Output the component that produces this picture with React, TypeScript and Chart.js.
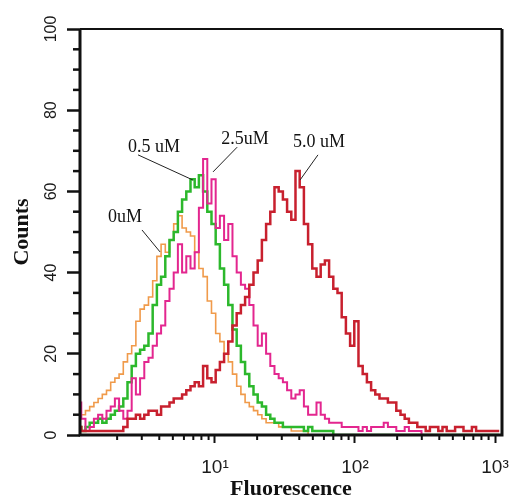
import React, { useEffect, useRef } from 'react';
import { Chart, registerables } from 'chart.js';

Chart.register(...registerables);

// Fluorescence channel positions (log-spaced bins)
const CHANNELS = [
  1.072, 1.148, 1.23, 1.318, 1.413, 1.514, 1.622, 1.738, 1.862, 1.995,
  2.138, 2.291, 2.455, 2.63, 2.818, 3.02, 3.236, 3.467, 3.715, 3.981,
  4.266, 4.571, 4.898, 5.248, 5.623, 6.026, 6.457, 6.918, 7.413, 7.943,
  8.511, 9.12, 9.772, 10.47, 11.22, 12.02, 12.88, 13.8, 14.79, 15.85,
  16.98, 18.2, 19.5, 20.89, 22.39, 23.99, 25.7, 27.54, 29.51, 31.62,
  33.88, 36.31, 38.9, 41.69, 44.67, 47.86, 51.29, 54.95, 58.88, 63.1,
  67.61, 72.44, 77.62, 83.18, 89.13, 95.5, 102.3, 109.6, 117.5, 125.9,
  134.9, 144.5, 154.9, 166.0, 177.8, 190.5, 204.2, 218.8, 234.4, 251.2,
  269.2, 288.4, 309.0, 331.1, 354.8, 380.2, 407.4, 436.5, 467.7, 501.2,
  537.0, 575.4, 616.6, 660.7, 707.9, 758.6, 812.8, 871.0, 933.3, 1000,
  1072,
];

const COUNTS_0UM = [
  4, 5, 6, 7, 8, 9, 10, 11, 13, 14,
  15, 18, 20, 22, 28, 31, 32, 34, 38, 44,
  47, 45, 48, 52, 54, 51, 50, 49, 45, 41,
  39, 33, 30, 25, 23, 20, 18, 15, 12, 10,
  8, 7, 6, 5, 4, 3, 3, 3, 2, 2,
  2, 1, 1, 1, 1, 0, 0, 0, 0, 0,
  0, 0, 0, 0, 0, 0, 0, 0, 0, 0,
  0, 0, 0, 0, 0, 0, 0, 0, 0, 0,
  0, 0, 0, 0, 0, 0, 0, 0, 0, 0,
  0, 0, 0, 0, 0, 0, 0, 0, 0, 0,
  0,
];

const COUNTS_05UM = [
  2, 1, 2, 3, 3, 4, 3, 4, 5, 6,
  7, 9, 13, 17, 20, 21, 22, 25, 32, 37,
  39, 44, 48, 50, 55, 58, 60, 63, 61, 64,
  60, 55, 52, 47, 41, 37, 32, 26, 22, 18,
  15, 12, 10, 8, 7, 5, 4, 3, 3, 2,
  2, 2, 2, 2, 1, 2, 1, 1, 1, 1,
  1, 0, 0, 0, 0, 0, 0, 0, 0, 0,
  0, 0, 0, 0, 0, 0, 0, 0, 0, 0,
  0, 0, 0, 0, 0, 0, 0, 0, 0, 0,
  0, 0, 0, 0, 0, 0, 0, 0, 0, 0,
  0,
];

const COUNTS_25UM = [
  8, 4, 1, 2, 4, 5, 4, 6, 7, 9,
  6, 4, 6, 14, 10, 14, 18, 19, 22, 25,
  27, 33, 36, 40, 47, 40, 44, 41, 45, 56,
  68, 57, 63, 51, 54, 48, 52, 44, 40, 37,
  36, 32, 27, 22, 25, 20, 17, 15, 14, 13,
  11, 9, 10, 11, 7, 5, 5, 8, 5, 4,
  3, 3, 3, 2, 2, 2, 2, 1, 2, 1,
  2, 2, 2, 3, 2, 2, 1, 1, 2, 1,
  1, 1, 0, 0, 0, 0, 0, 0, 0, 0,
  0, 0, 0, 0, 0, 0, 0, 0, 0, 0,
  0,
];

const COUNTS_50UM = [
  2, 1, 1, 1, 1, 1, 1, 1, 1, 1,
  1, 2, 4, 4, 5, 4, 5, 6, 6, 5,
  7, 7, 8, 9, 9, 10, 11, 12, 13, 12,
  17, 14, 13, 16, 18, 20, 23, 27, 30, 32,
  34, 37, 40, 43, 48, 52, 55, 61, 60, 58,
  55, 53, 65, 61, 52, 47, 41, 39, 42, 43,
  39, 36, 35, 29, 25, 22, 28, 17, 15, 13,
  11, 10, 9, 9, 8, 8, 6, 5, 4, 3,
  3, 2, 2, 1, 2, 2, 1, 2, 1, 1,
  2, 2, 1, 1, 2, 1, 1, 1, 1, 1,
  1,
];

const SERIES_LABELS = ['0uM', '0.5 uM', '2.5uM', '5.0 uM'];

const Y_MAJOR_STEP = 20;
const Y_MINOR = [5, 10, 15, 25, 30, 35, 45, 50, 55, 65, 70, 75, 85, 90, 95];
const X_MAJOR = [10, 100, 1000];
const X_TICK_LABELS = ['10\u00B9', '10\u00B2', '10\u00B3'];
const X_MINOR = [2, 3, 4, 5, 6, 7, 8, 9, 20, 30, 40, 50, 60, 70, 80, 90, 200, 300, 400, 500, 600, 700, 800, 900];

// annotation label anchors and leader lines (data coordinates)
const ANNOT_X = [2.28, 3.67, 16.4, 55.3];
const ANNOT_Y = [53.7, 70.9, 72.9, 72.2];
const LEADER_X1 = [3.01, 2.82, 14.4, 54.4];
const LEADER_Y1 = [50.5, 69.0, 70.9, 69.0];
const LEADER_X2 = [4.05, 6.96, 9.68, 40.5];
const LEADER_Y2 = [45.1, 62.8, 64.8, 62.8];

const toPoints = (vals: number[]) => CHANNELS.map((c, i) => ({ x: c, y: vals[i] }));

const framePlugin = {
  id: 'frameAndNotes',
  afterDraw(chart: any) {
    const { ctx, chartArea: ca, scales } = chart;
    const xs = scales.x;
    const ys = scales.y;
    ctx.save();
    ctx.strokeStyle = '#111';
    ctx.lineWidth = 2.5;
    Y_MINOR.forEach((v) => {
      const py = ys.getPixelForValue(v);
      ctx.beginPath();
      ctx.moveTo(ca.left - 7, py);
      ctx.lineTo(ca.left, py);
      ctx.stroke();
    });
    ctx.lineWidth = 2;
    X_MINOR.forEach((v) => {
      const px = xs.getPixelForValue(v);
      ctx.beginPath();
      ctx.moveTo(px, ca.bottom);
      ctx.lineTo(px, ca.bottom + 5);
      ctx.stroke();
    });
    // frame
    ctx.lineWidth = 3;
    ctx.beginPath();
    ctx.moveTo(ca.left, ca.top);
    ctx.lineTo(ca.left, ca.bottom);
    ctx.lineTo(ca.right, ca.bottom);
    ctx.lineTo(ca.right, ca.top);
    ctx.stroke();
    ctx.lineWidth = 2;
    ctx.beginPath();
    ctx.moveTo(ca.left, ca.top);
    ctx.lineTo(ca.right, ca.top);
    ctx.stroke();
    // annotations
    ctx.lineWidth = 1;
    ctx.strokeStyle = '#222';
    SERIES_LABELS.forEach((_, i) => {
      ctx.beginPath();
      ctx.moveTo(xs.getPixelForValue(LEADER_X1[i]), ys.getPixelForValue(LEADER_Y1[i]));
      ctx.lineTo(xs.getPixelForValue(LEADER_X2[i]), ys.getPixelForValue(LEADER_Y2[i]));
      ctx.stroke();
    });
    ctx.fillStyle = '#111';
    ctx.font = '18px "Liberation Serif", "Times New Roman", serif';
    ctx.textAlign = 'center';
    ctx.textBaseline = 'middle';
    SERIES_LABELS.forEach((t, i) => {
      ctx.fillText(t, xs.getPixelForValue(ANNOT_X[i]), ys.getPixelForValue(ANNOT_Y[i]));
    });
    ctx.restore();
  },
};

export default function App() {
  const ref = useRef<HTMLCanvasElement>(null);
  useEffect(() => {
    const chart = new Chart(ref.current as HTMLCanvasElement, {
      type: 'line',
      data: {
        datasets: [
          { label: SERIES_LABELS[3], data: toPoints(COUNTS_50UM), borderColor: '#c8202e', borderWidth: 2.5, order: 0 },
          { label: SERIES_LABELS[2], data: toPoints(COUNTS_25UM), borderColor: '#e3268f', borderWidth: 2, order: 1 },
          { label: SERIES_LABELS[1], data: toPoints(COUNTS_05UM), borderColor: '#2cb82c', borderWidth: 2.5, order: 2 },
          { label: SERIES_LABELS[0], data: toPoints(COUNTS_0UM), borderColor: '#f09a4a', borderWidth: 1.6, order: 3 },
        ].map((d) => ({ ...d, stepped: 'middle', pointRadius: 0, fill: false, tension: 0 })),
      },
      options: {
        animation: false,
        responsive: true,
        maintainAspectRatio: false,
        layout: { padding: { top: 29, right: 11, left: 0, bottom: 0 } },
        plugins: { legend: { display: false }, tooltip: { enabled: false } },
        scales: {
          x: {
            type: 'logarithmic',
            min: 1.086,
            max: 1122,
            afterBuildTicks: (axis: any) => {
              axis.ticks = X_MAJOR.map((v) => ({ value: v }));
            },
            afterFit: (axis: any) => {
              axis.height = 68;
              axis.paddingLeft = 0;
              axis.paddingRight = 0;
            },
            grid: { display: true, drawOnChartArea: false, drawTicks: true, tickLength: 8, tickWidth: 2, tickColor: '#111' },
            border: { display: false },
            ticks: {
              autoSkip: false,
              maxRotation: 0,
              minRotation: 0,
              padding: 13,
              color: '#1a1a1a',
              font: { family: '"Liberation Sans", Arial, sans-serif', size: 19 },
              callback: (value: any) => {
                const idx = X_MAJOR.indexOf(Number(value));
                return idx >= 0 ? X_TICK_LABELS[idx] : '';
              },
            },
            title: {
              display: true,
              text: 'Fluorescence',
              color: '#111',
              font: { family: '"Liberation Serif", "Times New Roman", serif', size: 22, weight: 'bold' },
              padding: { top: 0, bottom: 0 },
            },
          },
          y: {
            min: 0,
            max: 100,
            afterFit: (axis: any) => {
              axis.width = 80;
              axis.paddingTop = 0;
              axis.paddingBottom = 0;
            },
            grid: { display: true, drawOnChartArea: false, drawTicks: true, tickLength: 13, tickWidth: 2.5, tickColor: '#111' },
            border: { display: false },
            ticks: {
              stepSize: Y_MAJOR_STEP,
              minRotation: 90,
              maxRotation: 90,
              crossAlign: 'center',
              padding: 2,
              color: '#1a1a1a',
              font: { family: '"Liberation Sans", Arial, sans-serif', size: 16 },
            },
            title: {
              display: true,
              text: 'Counts',
              color: '#111',
              font: { family: '"Liberation Serif", "Times New Roman", serif', size: 22, weight: 'bold' },
              padding: { top: 9, bottom: 0 },
            },
          },
        },
      },
      plugins: [framePlugin],
    } as any);
    return () => chart.destroy();
  }, []);
  return (
    <div style={{ position: 'fixed', left: 0, top: 0, width: 513, height: 503, background: '#fff' }}>
      <canvas ref={ref} />
    </div>
  );
}
